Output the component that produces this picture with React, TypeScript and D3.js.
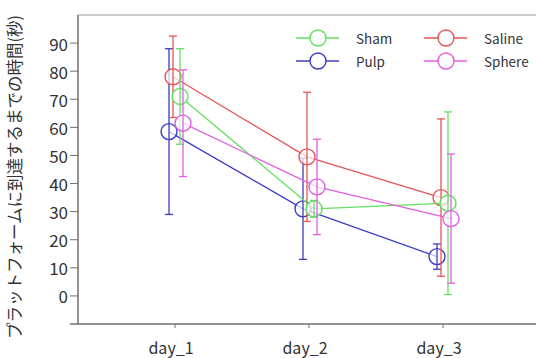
import { useEffect, useRef } from "react";
import * as d3 from "d3";

const days = ["day_1", "day_2", "day_3"];
const yTicks = [0, 10, 20, 30, 40, 50, 60, 70, 80, 90];

const seriesNames = ["Sham", "Saline", "Pulp", "Sphere"];
const seriesColors = ["#62e062", "#e55656", "#3c3cc8", "#e060e0"];
const seriesOffsets = [5, -2, -6, 8];

const shamMean = [71, 31, 33];
const shamErr = [17, 3, 32.5];
const salineMean = [78, 49.5, 35];
const salineErr = [14.5, 23, 28];
const pulpMean = [58.5, 31, 14];
const pulpErr = [29.5, 18, 4.5];
const sphereMean = [61.5, 38.8, 27.5];
const sphereErr = [19, 17, 23];

const means = [shamMean, salineMean, pulpMean, sphereMean];
const errs = [shamErr, salineErr, pulpErr, sphereErr];

const App = () => {
    const container = useRef<HTMLDivElement>(null);

    useEffect(() => {
        const el = container.current;
        if (!el) return;
        el.innerHTML = "";

        const W = 536, H = 358;
        const left = 78, top = 15, bottom = 324;
        const font = "'Noto Sans CJK JP', 'Noto Sans', sans-serif";
        const axisColor = "#707070";

        const svg = d3.select(el)
            .append("svg")
            .attr("width", W)
            .attr("height", H)
            .style("display", "block");

        const y = d3.scaleLinear().domain([-10, 100]).range([bottom, top]);
        const x = d3.scalePoint().domain(days).range([175, 443]);

        // frame
        svg.append("line").attr("x1", left).attr("x2", W).attr("y1", top).attr("y2", top)
            .attr("stroke", "#999");
        svg.append("line").attr("x1", 70).attr("x2", W).attr("y1", bottom).attr("y2", bottom)
            .attr("stroke", axisColor).attr("stroke-width", 1.5);
        svg.append("line").attr("x1", left).attr("x2", left).attr("y1", top).attr("y2", bottom)
            .attr("stroke", axisColor).attr("stroke-width", 1.5);

        // y ticks
        yTicks.forEach((t) => {
            svg.append("line").attr("x1", left - 8).attr("x2", left)
                .attr("y1", y(t)).attr("y2", y(t)).attr("stroke", axisColor);
            svg.append("text").attr("x", left - 10).attr("y", y(t))
                .attr("text-anchor", "end").attr("dominant-baseline", "central")
                .style("font-family", font).style("font-size", "17px").style("fill", "#333")
                .text(t);
        });

        // x ticks
        days.forEach((d) => {
            svg.append("line").attr("x1", x(d)).attr("x2", x(d))
                .attr("y1", bottom).attr("y2", bottom + 4).attr("stroke", axisColor);
            svg.append("text").attr("x", (x(d) as number) - 4).attr("y", 354)
                .attr("text-anchor", "middle")
                .style("font-family", font).style("font-size", "16px").style("fill", "#333")
                .text(d);
        });

        // y label
        svg.append("text")
            .attr("transform", `translate(21, 177) rotate(-90)`)
            .attr("text-anchor", "middle")
            .style("font-family", font).style("font-size", "16.5px").style("fill", "#333")
            .text("プラットフォームに到達するまでの時間(秒)");

        // series
        const drawOrder = [2, 1, 0, 3];
        drawOrder.forEach((s) => {
            const color = seriesColors[s];
            const pts = days.map((d, i) => ({
                px: (x(d) as number) + seriesOffsets[s],
                m: means[s][i],
                e: errs[s][i],
            }));
            const g = svg.append("g");

            g.append("path")
                .datum(pts)
                .attr("d", d3.line<any>().x((p) => p.px).y((p) => y(p.m)))
                .attr("fill", "none").attr("stroke", color).attr("stroke-width", 1.3);

            g.selectAll("circle").data(pts).join("circle")
                .attr("cx", (p) => p.px).attr("cy", (p) => y(p.m)).attr("r", 8)
                .attr("fill", "white").attr("fill-opacity", 0.7)
                .attr("stroke", color).attr("stroke-width", 1.4);

            pts.forEach((p) => {
                g.append("line").attr("x1", p.px).attr("x2", p.px)
                    .attr("y1", y(p.m + p.e)).attr("y2", y(p.m - p.e))
                    .attr("stroke", color).attr("stroke-width", 1.3);
                [p.m + p.e, p.m - p.e].forEach((v) => {
                    g.append("line").attr("x1", p.px - 4).attr("x2", p.px + 4)
                        .attr("y1", y(v)).attr("y2", y(v))
                        .attr("stroke", color).attr("stroke-width", 1.3);
                });
            });
        });

        // legend
        const legendPos = [[296, 38], [424, 38], [296, 61], [424, 61]];
        seriesNames.forEach((name, s) => {
            const [lx, ly] = legendPos[s];
            const color = seriesColors[s];
            svg.append("line").attr("x1", lx).attr("x2", lx + 43).attr("y1", ly).attr("y2", ly)
                .attr("stroke", color).attr("stroke-width", 1.3);
            svg.append("circle").attr("cx", lx + 22).attr("cy", ly).attr("r", 8)
                .attr("fill", "white").attr("stroke", color).attr("stroke-width", 1.4);
            svg.append("text").attr("x", lx + 60).attr("y", ly)
                .attr("dominant-baseline", "central")
                .style("font-family", font).style("font-size", "13.5px").style("fill", "#333")
                .text(name);
        });
    }, []);

    return <div ref={container} style={{ position: "absolute", left: 0, top: 0 }}></div>;
};

export default App;
